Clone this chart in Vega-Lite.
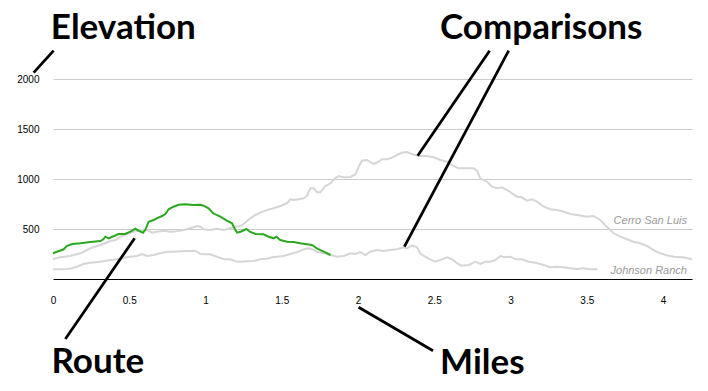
{
  "$schema": "https://vega.github.io/schema/vega-lite/v6.json",
  "autosize": {"type": "none"},
  "padding": {"left": 53, "top": 79, "right": 16, "bottom": 112},
  "width": 639,
  "height": 200,
  "background": "white",
  "config": {"view": {"stroke": null}, "font": "Liberation Sans"},
  "datasets": {
    "profiles": [
      {"series":"Cerro San Luis","mile":0,"elev":200},{"series":"Cerro San Luis","mile":0.05,"elev":217},{"series":"Cerro San Luis","mile":0.11,"elev":230},{"series":"Cerro San Luis","mile":0.18,"elev":257},{"series":"Cerro San Luis","mile":0.245,"elev":307},{"series":"Cerro San Luis","mile":0.29,"elev":330},{"series":"Cerro San Luis","mile":0.33,"elev":350},{"series":"Cerro San Luis","mile":0.376,"elev":380},{"series":"Cerro San Luis","mile":0.41,"elev":390},{"series":"Cerro San Luis","mile":0.44,"elev":423},{"series":"Cerro San Luis","mile":0.485,"elev":450},{"series":"Cerro San Luis","mile":0.53,"elev":473},{"series":"Cerro San Luis","mile":0.57,"elev":490},{"series":"Cerro San Luis","mile":0.616,"elev":490},{"series":"Cerro San Luis","mile":0.65,"elev":463},{"series":"Cerro San Luis","mile":0.68,"elev":473},{"series":"Cerro San Luis","mile":0.725,"elev":483},{"series":"Cerro San Luis","mile":0.77,"elev":473},{"series":"Cerro San Luis","mile":0.81,"elev":477},{"series":"Cerro San Luis","mile":0.857,"elev":490},{"series":"Cerro San Luis","mile":0.9,"elev":507},{"series":"Cerro San Luis","mile":0.944,"elev":530},{"series":"Cerro San Luis","mile":0.966,"elev":523},{"series":"Cerro San Luis","mile":0.988,"elev":497},{"series":"Cerro San Luis","mile":1.03,"elev":490},{"series":"Cerro San Luis","mile":1.075,"elev":503},{"series":"Cerro San Luis","mile":1.12,"elev":490},{"series":"Cerro San Luis","mile":1.16,"elev":507},{"series":"Cerro San Luis","mile":1.195,"elev":523},{"series":"Cerro San Luis","mile":1.23,"elev":530},{"series":"Cerro San Luis","mile":1.26,"elev":563},{"series":"Cerro San Luis","mile":1.294,"elev":607},{"series":"Cerro San Luis","mile":1.327,"elev":640},{"series":"Cerro San Luis","mile":1.36,"elev":663},{"series":"Cerro San Luis","mile":1.403,"elev":690},{"series":"Cerro San Luis","mile":1.447,"elev":707},{"series":"Cerro San Luis","mile":1.49,"elev":730},{"series":"Cerro San Luis","mile":1.534,"elev":757},{"series":"Cerro San Luis","mile":1.556,"elev":797},{"series":"Cerro San Luis","mile":1.578,"elev":790},{"series":"Cerro San Luis","mile":1.61,"elev":797},{"series":"Cerro San Luis","mile":1.644,"elev":807},{"series":"Cerro San Luis","mile":1.665,"elev":830},{"series":"Cerro San Luis","mile":1.687,"elev":907},{"series":"Cerro San Luis","mile":1.71,"elev":907},{"series":"Cerro San Luis","mile":1.73,"elev":867},{"series":"Cerro San Luis","mile":1.753,"elev":867},{"series":"Cerro San Luis","mile":1.786,"elev":930},{"series":"Cerro San Luis","mile":1.82,"elev":957},{"series":"Cerro San Luis","mile":1.85,"elev":1007},{"series":"Cerro San Luis","mile":1.873,"elev":1030},{"series":"Cerro San Luis","mile":1.906,"elev":1017},{"series":"Cerro San Luis","mile":1.95,"elev":1020},{"series":"Cerro San Luis","mile":1.982,"elev":1045},{"series":"Cerro San Luis","mile":2.004,"elev":1123},{"series":"Cerro San Luis","mile":2.026,"elev":1183},{"series":"Cerro San Luis","mile":2.058,"elev":1190},{"series":"Cerro San Luis","mile":2.102,"elev":1150},{"series":"Cerro San Luis","mile":2.135,"elev":1173},{"series":"Cerro San Luis","mile":2.157,"elev":1197},{"series":"Cerro San Luis","mile":2.19,"elev":1197},{"series":"Cerro San Luis","mile":2.223,"elev":1213},{"series":"Cerro San Luis","mile":2.256,"elev":1240},{"series":"Cerro San Luis","mile":2.288,"elev":1263},{"series":"Cerro San Luis","mile":2.32,"elev":1270},{"series":"Cerro San Luis","mile":2.354,"elev":1250},{"series":"Cerro San Luis","mile":2.397,"elev":1230},{"series":"Cerro San Luis","mile":2.45,"elev":1230},{"series":"Cerro San Luis","mile":2.496,"elev":1217},{"series":"Cerro San Luis","mile":2.54,"elev":1190},{"series":"Cerro San Luis","mile":2.584,"elev":1173},{"series":"Cerro San Luis","mile":2.627,"elev":1130},{"series":"Cerro San Luis","mile":2.66,"elev":1107},{"series":"Cerro San Luis","mile":2.704,"elev":1107},{"series":"Cerro San Luis","mile":2.758,"elev":1107},{"series":"Cerro San Luis","mile":2.78,"elev":1083},{"series":"Cerro San Luis","mile":2.802,"elev":1007},{"series":"Cerro San Luis","mile":2.846,"elev":973},{"series":"Cerro San Luis","mile":2.879,"elev":923},{"series":"Cerro San Luis","mile":2.91,"elev":907},{"series":"Cerro San Luis","mile":2.944,"elev":917},{"series":"Cerro San Luis","mile":2.977,"elev":890},{"series":"Cerro San Luis","mile":3.01,"elev":857},{"series":"Cerro San Luis","mile":3.043,"elev":823},{"series":"Cerro San Luis","mile":3.075,"elev":817},{"series":"Cerro San Luis","mile":3.108,"elev":783},{"series":"Cerro San Luis","mile":3.141,"elev":797},{"series":"Cerro San Luis","mile":3.174,"elev":773},{"series":"Cerro San Luis","mile":3.218,"elev":723},{"series":"Cerro San Luis","mile":3.26,"elev":697},{"series":"Cerro San Luis","mile":3.305,"elev":690},{"series":"Cerro San Luis","mile":3.35,"elev":673},{"series":"Cerro San Luis","mile":3.392,"elev":650},{"series":"Cerro San Luis","mile":3.436,"elev":640},{"series":"Cerro San Luis","mile":3.5,"elev":623},{"series":"Cerro San Luis","mile":3.545,"elev":630},{"series":"Cerro San Luis","mile":3.588,"elev":590},{"series":"Cerro San Luis","mile":3.632,"elev":523},{"series":"Cerro San Luis","mile":3.676,"elev":457},{"series":"Cerro San Luis","mile":3.72,"elev":423},{"series":"Cerro San Luis","mile":3.764,"elev":397},{"series":"Cerro San Luis","mile":3.807,"elev":373},{"series":"Cerro San Luis","mile":3.85,"elev":357},{"series":"Cerro San Luis","mile":3.894,"elev":330},{"series":"Cerro San Luis","mile":3.938,"elev":290},{"series":"Cerro San Luis","mile":3.982,"elev":257},{"series":"Cerro San Luis","mile":4.025,"elev":237},{"series":"Cerro San Luis","mile":4.07,"elev":223},{"series":"Cerro San Luis","mile":4.13,"elev":217},{"series":"Cerro San Luis","mile":4.19,"elev":197},
      {"series":"Johnson Ranch","mile":0,"elev":97},{"series":"Johnson Ranch","mile":0.05,"elev":97},{"series":"Johnson Ranch","mile":0.09,"elev":100},{"series":"Johnson Ranch","mile":0.125,"elev":107},{"series":"Johnson Ranch","mile":0.157,"elev":123},{"series":"Johnson Ranch","mile":0.2,"elev":150},{"series":"Johnson Ranch","mile":0.245,"elev":163},{"series":"Johnson Ranch","mile":0.29,"elev":170},{"series":"Johnson Ranch","mile":0.33,"elev":177},{"series":"Johnson Ranch","mile":0.376,"elev":190},{"series":"Johnson Ranch","mile":0.42,"elev":197},{"series":"Johnson Ranch","mile":0.463,"elev":213},{"series":"Johnson Ranch","mile":0.507,"elev":223},{"series":"Johnson Ranch","mile":0.55,"elev":230},{"series":"Johnson Ranch","mile":0.584,"elev":250},{"series":"Johnson Ranch","mile":0.616,"elev":230},{"series":"Johnson Ranch","mile":0.66,"elev":240},{"series":"Johnson Ranch","mile":0.704,"elev":257},{"series":"Johnson Ranch","mile":0.748,"elev":273},{"series":"Johnson Ranch","mile":0.79,"elev":273},{"series":"Johnson Ranch","mile":0.835,"elev":277},{"series":"Johnson Ranch","mile":0.88,"elev":280},{"series":"Johnson Ranch","mile":0.922,"elev":283},{"series":"Johnson Ranch","mile":0.944,"elev":273},{"series":"Johnson Ranch","mile":0.966,"elev":250},{"series":"Johnson Ranch","mile":1.0,"elev":247},{"series":"Johnson Ranch","mile":1.03,"elev":247},{"series":"Johnson Ranch","mile":1.075,"elev":223},{"series":"Johnson Ranch","mile":1.12,"elev":197},{"series":"Johnson Ranch","mile":1.163,"elev":197},{"series":"Johnson Ranch","mile":1.195,"elev":177},{"series":"Johnson Ranch","mile":1.23,"elev":173},{"series":"Johnson Ranch","mile":1.27,"elev":177},{"series":"Johnson Ranch","mile":1.316,"elev":180},{"series":"Johnson Ranch","mile":1.36,"elev":197},{"series":"Johnson Ranch","mile":1.403,"elev":203},{"series":"Johnson Ranch","mile":1.436,"elev":217},{"series":"Johnson Ranch","mile":1.47,"elev":223},{"series":"Johnson Ranch","mile":1.51,"elev":230},{"series":"Johnson Ranch","mile":1.556,"elev":250},{"series":"Johnson Ranch","mile":1.6,"elev":267},{"series":"Johnson Ranch","mile":1.633,"elev":290},{"series":"Johnson Ranch","mile":1.665,"elev":307},{"series":"Johnson Ranch","mile":1.7,"elev":297},{"series":"Johnson Ranch","mile":1.73,"elev":273},{"series":"Johnson Ranch","mile":1.775,"elev":257},{"series":"Johnson Ranch","mile":1.82,"elev":240},{"series":"Johnson Ranch","mile":1.862,"elev":223},{"series":"Johnson Ranch","mile":1.906,"elev":230},{"series":"Johnson Ranch","mile":1.95,"elev":257},{"series":"Johnson Ranch","mile":1.982,"elev":250},{"series":"Johnson Ranch","mile":2.015,"elev":270},{"series":"Johnson Ranch","mile":2.048,"elev":240},{"series":"Johnson Ranch","mile":2.08,"elev":273},{"series":"Johnson Ranch","mile":2.124,"elev":290},{"series":"Johnson Ranch","mile":2.168,"elev":280},{"series":"Johnson Ranch","mile":2.21,"elev":290},{"series":"Johnson Ranch","mile":2.256,"elev":297},{"series":"Johnson Ranch","mile":2.3,"elev":317},{"series":"Johnson Ranch","mile":2.32,"elev":307},{"series":"Johnson Ranch","mile":2.354,"elev":337},{"series":"Johnson Ranch","mile":2.386,"elev":317},{"series":"Johnson Ranch","mile":2.408,"elev":257},{"series":"Johnson Ranch","mile":2.44,"elev":223},{"series":"Johnson Ranch","mile":2.474,"elev":197},{"series":"Johnson Ranch","mile":2.507,"elev":173},{"series":"Johnson Ranch","mile":2.54,"elev":190},{"series":"Johnson Ranch","mile":2.584,"elev":217},{"series":"Johnson Ranch","mile":2.616,"elev":197},{"series":"Johnson Ranch","mile":2.65,"elev":157},{"series":"Johnson Ranch","mile":2.68,"elev":133},{"series":"Johnson Ranch","mile":2.726,"elev":140},{"series":"Johnson Ranch","mile":2.77,"elev":173},{"series":"Johnson Ranch","mile":2.802,"elev":150},{"series":"Johnson Ranch","mile":2.835,"elev":173},{"series":"Johnson Ranch","mile":2.868,"elev":173},{"series":"Johnson Ranch","mile":2.9,"elev":190},{"series":"Johnson Ranch","mile":2.933,"elev":230},{"series":"Johnson Ranch","mile":2.966,"elev":217},{"series":"Johnson Ranch","mile":3.0,"elev":223},{"series":"Johnson Ranch","mile":3.032,"elev":197},{"series":"Johnson Ranch","mile":3.075,"elev":197},{"series":"Johnson Ranch","mile":3.12,"elev":173},{"series":"Johnson Ranch","mile":3.163,"elev":163},{"series":"Johnson Ranch","mile":3.218,"elev":140},{"series":"Johnson Ranch","mile":3.26,"elev":117},{"series":"Johnson Ranch","mile":3.305,"elev":123},{"series":"Johnson Ranch","mile":3.35,"elev":117},{"series":"Johnson Ranch","mile":3.392,"elev":107},{"series":"Johnson Ranch","mile":3.436,"elev":100},{"series":"Johnson Ranch","mile":3.48,"elev":107},{"series":"Johnson Ranch","mile":3.523,"elev":97},{"series":"Johnson Ranch","mile":3.57,"elev":97},
      {"series":"Route","mile":0,"elev":257},{"series":"Route","mile":0.026,"elev":273},{"series":"Route","mile":0.07,"elev":297},{"series":"Route","mile":0.09,"elev":330},{"series":"Route","mile":0.125,"elev":350},{"series":"Route","mile":0.18,"elev":357},{"series":"Route","mile":0.245,"elev":370},{"series":"Route","mile":0.31,"elev":380},{"series":"Route","mile":0.33,"elev":397},{"series":"Route","mile":0.343,"elev":423},{"series":"Route","mile":0.365,"elev":407},{"series":"Route","mile":0.4,"elev":430},{"series":"Route","mile":0.43,"elev":450},{"series":"Route","mile":0.474,"elev":450},{"series":"Route","mile":0.507,"elev":473},{"series":"Route","mile":0.54,"elev":503},{"series":"Route","mile":0.56,"elev":483},{"series":"Route","mile":0.59,"elev":463},{"series":"Route","mile":0.605,"elev":490},{"series":"Route","mile":0.627,"elev":573},{"series":"Route","mile":0.66,"elev":590},{"series":"Route","mile":0.68,"elev":607},{"series":"Route","mile":0.715,"elev":630},{"series":"Route","mile":0.737,"elev":650},{"series":"Route","mile":0.758,"elev":697},{"series":"Route","mile":0.79,"elev":723},{"series":"Route","mile":0.824,"elev":743},{"series":"Route","mile":0.868,"elev":747},{"series":"Route","mile":0.922,"elev":740},{"series":"Route","mile":0.966,"elev":743},{"series":"Route","mile":0.988,"elev":733},{"series":"Route","mile":1.02,"elev":707},{"series":"Route","mile":1.05,"elev":657},{"series":"Route","mile":1.097,"elev":623},{"series":"Route","mile":1.14,"elev":583},{"series":"Route","mile":1.174,"elev":557},{"series":"Route","mile":1.19,"elev":507},{"series":"Route","mile":1.207,"elev":463},{"series":"Route","mile":1.23,"elev":473},{"series":"Route","mile":1.268,"elev":500},{"series":"Route","mile":1.29,"elev":473},{"series":"Route","mile":1.327,"elev":450},{"series":"Route","mile":1.38,"elev":447},{"series":"Route","mile":1.414,"elev":423},{"series":"Route","mile":1.447,"elev":407},{"series":"Route","mile":1.465,"elev":423},{"series":"Route","mile":1.49,"elev":390},{"series":"Route","mile":1.534,"elev":373},{"series":"Route","mile":1.578,"elev":370},{"series":"Route","mile":1.62,"elev":357},{"series":"Route","mile":1.665,"elev":347},{"series":"Route","mile":1.698,"elev":340},{"series":"Route","mile":1.73,"elev":307},{"series":"Route","mile":1.775,"elev":273},{"series":"Route","mile":1.82,"elev":240}
    ],
    "seriesLabels": [
      {"label": "Cerro San Luis", "mile": 4.157, "elev": 550},
      {"label": "Johnson Ranch", "mile": 4.157, "elev": 50}
    ],
    "notes": [
      {"label": "Elevation", "mile": -0.014, "elev": 2400},
      {"label": "Comparisons", "mile": 2.538, "elev": 2397},
      {"label": "Route", "mile": -0.01, "elev": -943},
      {"label": "Miles", "mile": 2.538, "elev": -950}
    ],
    "pointers": [
      {"name": "Elevation", "mile": 0.004, "elev": 2283, "mile2": -0.127, "elev2": 2063},
      {"name": "Comparisons A", "mile": 2.863, "elev": 2283, "mile2": 2.391, "elev2": 1233},
      {"name": "Comparisons B", "mile": 2.988, "elev": 2283, "mile2": 2.304, "elev2": 323},
      {"name": "Route", "mile": 0.535, "elev": 407, "mile2": 0.081, "elev2": -600},
      {"name": "Miles", "mile": 2.004, "elev": -283, "mile2": 2.492, "elev2": -717}
    ]
  },
  "layer": [
    {
      "data": {"name": "profiles"},
      "transform": [{"filter": "datum.series !== 'Route'"}],
      "mark": {"type": "line", "stroke": "#d6d6d6", "strokeWidth": 2, "interpolate": "linear"},
      "encoding": {
        "x": {
          "field": "mile", "type": "quantitative",
          "scale": {"domain": [0, 4.19], "nice": false, "zero": false},
          "axis": {
            "title": null, "values": [0, 0.5, 1, 1.5, 2, 2.5, 3, 3.5, 4], "format": "~g",
            "grid": false, "ticks": false, "tickSize": 0, "domain": true, "domainColor": "#000000", "domainWidth": 1,
            "labelPadding": 16, "labelFontSize": 10, "labelColor": "#000000", "labelFlush": false, "labelOverlap": false,
            "labelFont": "Liberation Sans"
          }
        },
        "y": {
          "field": "elev", "type": "quantitative",
          "scale": {"domain": [0, 2000], "nice": false},
          "axis": {
            "title": null, "values": [500, 1000, 1500, 2000], "format": "d",
            "grid": true, "gridColor": "#cccccc", "gridWidth": 1, "ticks": false, "tickSize": 0, "domain": false,
            "labelPadding": 14, "labelFontSize": 10, "labelColor": "#000000", "labelFont": "Liberation Sans"
          }
        },
        "detail": {"field": "series", "type": "nominal"}
      }
    },
    {
      "data": {"name": "profiles"},
      "transform": [{"filter": "datum.series === 'Route'"}],
      "mark": {"type": "line", "stroke": "#2aa81e", "strokeWidth": 2},
      "encoding": {
        "x": {"field": "mile", "type": "quantitative"},
        "y": {"field": "elev", "type": "quantitative"}
      }
    },
    {
      "data": {"name": "seriesLabels"},
      "mark": {"type": "text", "align": "right", "baseline": "alphabetic", "fontStyle": "italic", "fontSize": 11, "color": "#9a9a9a", "font": "Liberation Sans"},
      "encoding": {
        "x": {"field": "mile", "type": "quantitative"},
        "y": {"field": "elev", "type": "quantitative"},
        "text": {"field": "label", "type": "nominal"}
      }
    },
    {
      "data": {"name": "pointers"},
      "mark": {"type": "rule", "color": "#000000", "strokeWidth": 2.75},
      "encoding": {
        "x": {"field": "mile", "type": "quantitative"},
        "y": {"field": "elev", "type": "quantitative"},
        "x2": {"field": "mile2"},
        "y2": {"field": "elev2"}
      }
    },
    {
      "data": {"name": "notes"},
      "mark": {"type": "text", "align": "left", "baseline": "alphabetic", "font": "Lato", "fontWeight": "bold", "fontSize": 35, "color": "#000000"},
      "encoding": {
        "x": {"field": "mile", "type": "quantitative"},
        "y": {"field": "elev", "type": "quantitative"},
        "text": {"field": "label", "type": "nominal"}
      }
    }
  ]
}
